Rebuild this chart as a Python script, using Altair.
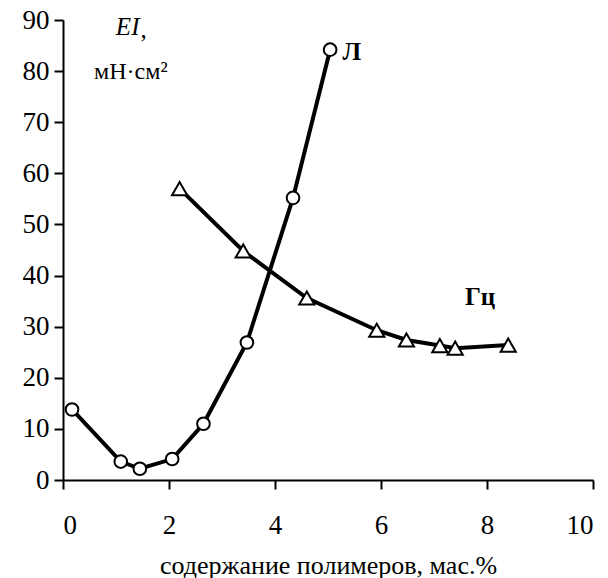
import altair as alt
import pandas as pd

# Series Л (circles)
l_x = [0.17, 1.09, 1.45, 2.06, 2.65, 3.47, 4.34, 5.04]
l_y = [13.8, 3.6, 2.2, 4.1, 11.0, 26.9, 55.2, 84.2]

# Series Гц (triangles)
g_x = [2.2, 3.4, 4.6, 5.92, 6.48, 7.11, 7.4, 8.4]
g_y = [57.0, 44.8, 35.6, 29.3, 27.4, 26.3, 25.8, 26.4]

# annotations
lab_text = ["Л", "Гц"]
lab_x = [5.45, 7.87]
lab_y = [83.7, 35.8]

x_ticks = [0, 2, 4, 6, 8, 10]
y_ticks = [0, 10, 20, 30, 40, 50, 60, 70, 80, 90]

FONT = "'Liberation Serif', 'Times New Roman', Times, serif"

dl = pd.DataFrame({"x": l_x, "y": l_y})
dg = pd.DataFrame({"x": g_x, "y": g_y})
dlab = pd.DataFrame({"t": lab_text, "x": lab_x, "y": lab_y})
dunit = pd.DataFrame({"t": ["EI", "мН·см²"], "x": [1.22, 1.28], "y": [88.6, 79.8]})

xs = alt.Scale(domain=[0, 10], nice=False, zero=False)
ys = alt.Scale(domain=[0, 90], nice=False, zero=False)

xenc = alt.X("x:Q", scale=xs, axis=alt.Axis(
    values=x_ticks, title="содержание полимеров, мас.%", grid=False,
    domainColor="black", domainWidth=2, tickColor="black", tickWidth=2, tickSize=9,
    labelFont=FONT, labelFontSize=27, labelColor="black", labelPadding=23,
    titleFont=FONT, titleFontSize=26, titleFontWeight="normal", titleColor="black",
    titlePadding=14))
yenc = alt.Y("y:Q", scale=ys, axis=alt.Axis(
    values=y_ticks, title=None, grid=False,
    domainColor="black", domainWidth=2, tickColor="black", tickWidth=2, tickSize=9,
    labelFont=FONT, labelFontSize=27, labelColor="black", labelPadding=5))

line_l = alt.Chart(dl).mark_line(color="black", strokeWidth=4).encode(x=xenc, y=yenc)
pts_l = alt.Chart(dl).mark_point(shape="circle", size=160, filled=True, fill="white",
                                  stroke="black", strokeWidth=2, opacity=1).encode(x="x:Q", y="y:Q")
line_g = alt.Chart(dg).mark_line(color="black", strokeWidth=4).encode(x="x:Q", y="y:Q")
pts_g = alt.Chart(dg).mark_point(shape="triangle-up", size=230, filled=True, fill="white",
                                  stroke="black", strokeWidth=2, opacity=1).encode(x="x:Q", y="y:Q")

labs = alt.Chart(dlab).mark_text(font=FONT, fontSize=25, fontWeight="bold", color="black").encode(
    x="x:Q", y="y:Q", text="t:N")
unit1 = alt.Chart(dunit.iloc[[0]]).mark_text(font=FONT, fontSize=25, fontStyle="italic", color="black").encode(
    x="x:Q", y="y:Q", text="t:N")
unit_comma = alt.Chart(pd.DataFrame({"t": [","], "x": [1.52], "y": [88.0]})).mark_text(
    font=FONT, fontSize=25, color="black").encode(x="x:Q", y="y:Q", text="t:N")
unit2 = alt.Chart(dunit.iloc[[1]]).mark_text(font=FONT, fontSize=24, color="black").encode(
    x="x:Q", y="y:Q", text="t:N")

chart = alt.layer(line_l, line_g, pts_l, pts_g, labs, unit1, unit_comma, unit2).properties(
    width=530, height=460,
    autosize=alt.AutoSizeParams(type="none"),
    padding={"left": 63, "top": 20, "right": 15, "bottom": 98},
    background="white",
).configure_view(stroke=None)

chart.save("out.html", embed_options={"renderer": "svg", "actions": False})
